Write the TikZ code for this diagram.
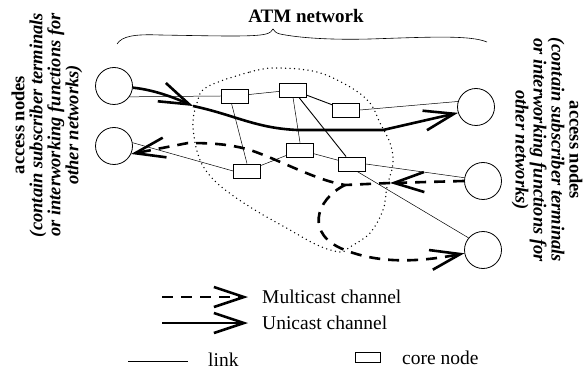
\documentclass[tikz,border=0pt]{standalone}
\usepackage{fontspec}
\setmainfont{Liberation Serif}
\usetikzlibrary{arrows.meta}
\begin{document}
\begin{tikzpicture}[x=1pt,y=-1pt,
  acc/.style={circle,draw,line width=0.8pt,minimum size=37pt,inner sep=0pt},
  core/.style={rectangle,draw,line width=0.8pt,minimum width=27pt,minimum height=14pt,inner sep=0pt},
  link/.style={line width=0.5pt},
  mlink/.style={line width=0.9pt},
  bigtip/.style={-{Straight Barb[length=30pt,width=20pt,line width=2.6pt]}},
  uni/.style={line width=2.6pt,bigtip},
  multi/.style={line width=2.6pt,dash pattern=on 11pt off 8pt},
  bound/.style={line width=1.5pt,line cap=round,dash pattern=on 0pt off 4.5pt},
  sidetext/.style={align=center,inner sep=0pt,font=\fontsize{18.5}{18}\selectfont},
  legtext/.style={anchor=west,inner sep=0pt,font=\fontsize{19.5}{21}\selectfont},
]
\useasboundingbox (0,0) rectangle (585,371);

% access nodes
\node[acc] (L1) at (114,86) {};
\node[acc] (L2) at (114,146) {};
\node[acc] (R1) at (476,107) {};
\node[acc] (R2) at (483,181) {};
\node[acc] (R3) at (483,250) {};

% core nodes
\node[core] (A) at (234.5,96) {};
\node[core] (B) at (293,90) {};
\node[core] (C) at (346,110) {};
\node[core] (D) at (300,150) {};
\node[core] (E) at (247,171) {};
\node[core] (F) at (352,164) {};

% links
\draw[link] (A.west) -- (L1.-35);
\draw[link] (A) -- (B);
\draw[mlink] (B) -- (C);
\draw[link] (B.south) -- (D.north);
\draw[mlink] (B) -- (F);
\draw[link] ([xshift=-3pt]A.south) -- (E.north);
\draw[link] (E) -- (D);
\draw[link] (D) -- (F);
\draw[link] (C.east) -- (R1.163);
\draw[link] (F.east) -- (R2.170);
\draw[link] (E.west) -- (L2.10);
\draw[link] ([xshift=5pt]F.south) -- (R3.140);

% network boundary
\draw[bound] plot[smooth cycle, tension=0.6] coordinates {(207,87) (250,72) (277,68) (317,72) (350,87) (370,103) (380,123) (390,143) (393,163) (387,187) (383,210) (370,233) (350,247) (340,252) (317,245) (290,230) (250,207) (217,183) (200,160) (193,127) (197,103)};

% unicast channel
\coordinate (u1) at (193,106);
\draw[uni] (L1.-5) .. controls (155,90) and (175,98) .. (u1);
\draw[uni] (u1) .. controls (235,115) and (255,128) .. (297,130) -- (383,130) -- (R1.-162);

% multicast channel
\coordinate (m1) at (390,183);
\coordinate (m2) at (345,185);
\draw[multi,bigtip] (R2.west) -- (m1);
\draw[multi,bigtip] (m1) -- (m2) .. controls (315,180) and (280,160) .. (250,150) .. controls (230,144) and (210,143) .. (188,143) -- (L2.-25);
\draw[multi,bigtip] (m2) .. controls (315,200) and (305,235) .. (345,250) .. controls (380,264) and (420,262) .. (R3.-170);

% brace and title
\draw[line width=0.6pt] (117,44) .. controls (122,36) and (135,34) .. (160,35) .. controls (220,36) and (255,37) .. (266,34) .. controls (270,33) and (272,31) .. (273,29) .. controls (274,31) and (276,33) .. (280,34) .. controls (300,38) and (330,40) .. (370,39) .. controls (430,37) and (470,35) .. (487,42);
\node[inner sep=0pt,font=\fontsize{19}{21}\selectfont\bfseries] (title) at (306,16) {ATM network};

% side texts
\node[sidetext,rotate=90] (lt) at (47,125) {{\bfseries access nodes}\\{\bfseries\itshape (contain subscriber terminals}\\{\bfseries\itshape or interworking functions for}\\{\bfseries\itshape other networks)}};
\node[sidetext,rotate=-90] (rt) at (547,150) {{\bfseries access nodes}\\{\bfseries\itshape (contain subscriber terminals}\\{\bfseries\itshape or interworking functions for}\\{\bfseries\itshape other networks)}};

% legend
\coordinate (lm0) at (162,297);
\coordinate (lm1) at (248,297);
\node[legtext] (lmt) at (262,297) {Multicast channel};
\draw[multi,bigtip] (lm0) -- (lm1);
\coordinate (lu0) at (162,323);
\coordinate (lu1) at (248,323);
\node[legtext] (lut) at (262,323) {Unicast channel};
\draw[uni] (lu0) -- (lu1);
\coordinate (ll0) at (128,361);
\coordinate (ll1) at (188,361);
\draw[link,line width=0.7pt] (ll0) -- (ll1);
\node[legtext] (llt) at (208,360) {link};
\node[core,minimum width=25pt,minimum height=10pt,line width=0.6pt] (lc) at (367.5,357) {};
\node[legtext] (lct) at (402,358) {core node};
\end{tikzpicture}
\end{document}
